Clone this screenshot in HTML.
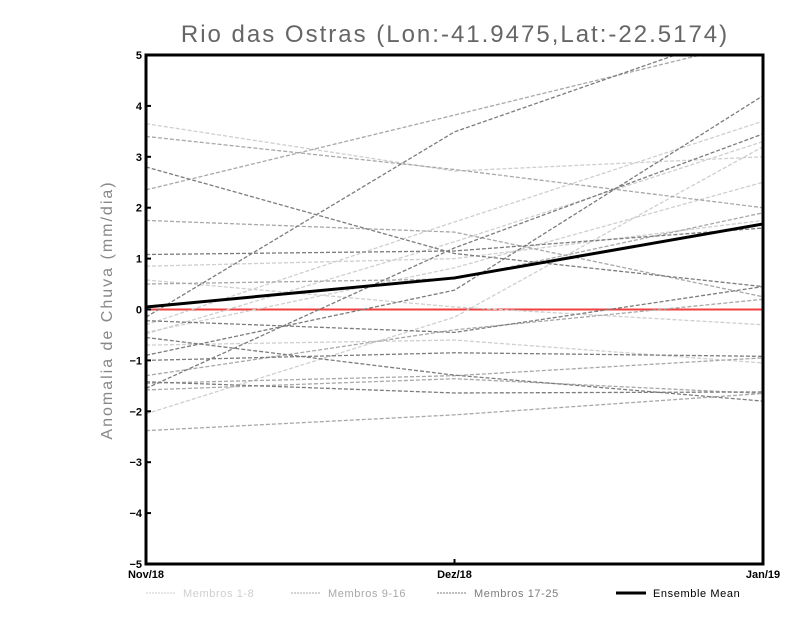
<!DOCTYPE html>
<html><head><meta charset="utf-8"><style>
body{margin:0;background:#fff;}
svg{display:block;font-family:"Liberation Sans",sans-serif;}
</style></head><body>
<svg id="chart" width="800" height="618" viewBox="0 0 800 618">
<text x="455" y="42" font-size="24" fill="#666" text-anchor="middle" style="letter-spacing:2px">Rio das Ostras (Lon:-41.9475,Lat:-22.5174)</text>
<text transform="translate(112,310) rotate(-90)" font-size="16" fill="#888" text-anchor="middle" style="letter-spacing:2px">Anomalia de Chuva (mm/dia)</text>
<g id="series"></g>
<g id="axes"></g>
<g id="legend"></g>
</svg>
<script>
const categories = ["Nov/18","Dez/18","Jan/19"];
const yTicks = [5,4,3,2,1,0,-1,-2,-3,-4,-5];
// group: 0 = Membros 1-8, 1 = Membros 9-16, 2 = Membros 17-25
const memberGroups = [0,0,0,0,0,0,0,0, 1,1,1,1,1,1,1,1, 2,2,2,2,2,2,2,2,2];
const memberValues = [
 [3.65,2.72,3.0],
 [0.85,1.0,1.75],
 [0.58,0.05,-0.3],
 [-0.45,0.82,2.5],
 [-0.3,1.72,3.7],
 [-0.7,-0.6,-1.05],
 [-2.05,-0.15,3.2],
 [-0.48,1.33,3.3],
 [3.4,2.75,2.0],
 [2.35,3.82,5.3],
 [1.75,1.52,0.25],
 [0.5,0.6,1.9],
 [-1.3,-0.4,0.2],
 [-1.45,-1.3,-0.95],
 [-1.58,-1.36,-1.65],
 [-2.38,-2.07,-1.65],
 [2.8,1.1,0.45],
 [1.08,1.15,1.6],
 [-0.15,3.49,5.6],
 [-0.22,-0.45,0.45],
 [-0.55,-1.29,-1.8],
 [-0.9,0.38,4.2],
 [-1.0,-0.85,-0.92],
 [-1.42,-1.64,-1.62],
 [-1.55,1.21,3.45]
];
const ensembleMean = [0.05,0.62,1.68];
const legendLabels = ["Membros 1-8","Membros 9-16","Membros 17-25","Ensemble Mean"];
const groupColors = ["#cfcfcf","#a8a8a8","#7c7c7c"];

const L=146,R=763,T=55,B=564;
const xs = i => L + (R-L)*i/(categories.length-1);
const ys = v => T + (5 - v)*(B-T)/10;
const NS="http://www.w3.org/2000/svg";
function mk(tag, attrs, parent){const e=document.createElementNS(NS,tag);for(const k in attrs)e.setAttribute(k,attrs[k]);parent.appendChild(e);return e;}
const svg=document.getElementById('chart');
const defs=mk('defs',{},svg);
const cp=mk('clipPath',{id:'clip'},defs);mk('rect',{x:L,y:T,width:R-L,height:B-T},cp);
const sg=document.getElementById('series');sg.setAttribute('clip-path','url(#clip)');
const zl=mk('line',{x1:L,x2:R,y1:ys(0),y2:ys(0),stroke:'#f04040','stroke-width':2},sg);


memberValues.forEach((vals,m)=>{
 const pts=vals.map((v,i)=>xs(i)+','+ys(v)).join(' ');
 const p=mk('polyline',{points:pts,fill:'none',stroke:groupColors[memberGroups[m]],'stroke-width':1.3,'stroke-dasharray':'4,2'},sg);
 
 
});
const mp=mk('polyline',{points:ensembleMean.map((v,i)=>xs(i)+','+ys(v)).join(' '),fill:'none',stroke:'#000','stroke-width':3},sg);



const ax=document.getElementById('axes');
const fr=mk('rect',{x:L,y:T,width:R-L,height:B-T,fill:'none',stroke:'#000','stroke-width':3},ax);


yTicks.forEach(v=>{
 mk('line',{x1:L,x2:L+5,y1:ys(v),y2:ys(v),stroke:'#000','stroke-width':2},ax);
 const t=mk('text',{x:L-4,y:ys(v)+4,'font-size':11,'font-weight':'bold','text-anchor':'end',fill:'#000'},ax);
 t.textContent=v<0?'\u2212'+(-v):String(v);
 
 
});
categories.forEach((c,i)=>{
 mk('line',{x1:xs(i),x2:xs(i),y1:B,y2:B-5,stroke:'#000','stroke-width':2},ax);
 const t=mk('text',{x:xs(i),y:B+14,'font-size':11,'font-weight':'bold','text-anchor':'middle',fill:'#000'},ax);
 t.textContent=c;
 
 
});
const lg=document.getElementById('legend');
const lx=[146,291,437,616];
legendLabels.forEach((lab,i)=>{
 const y=593;
 const isMean=i===3;
 mk('line',{x1:lx[i],x2:lx[i]+30,y1:y,y2:y,stroke:isMean?'#000':groupColors[i],'stroke-width':isMean?3:1,'stroke-dasharray':isMean?'none':'2,1'},lg);
 const t=mk('text',{x:lx[i]+37,y:y+4,'font-size':11,fill:isMean?'#000':groupColors[i],style:'letter-spacing:0.6px'},lg);
 t.textContent=lab;
 
 
});
</script>
</body></html>
